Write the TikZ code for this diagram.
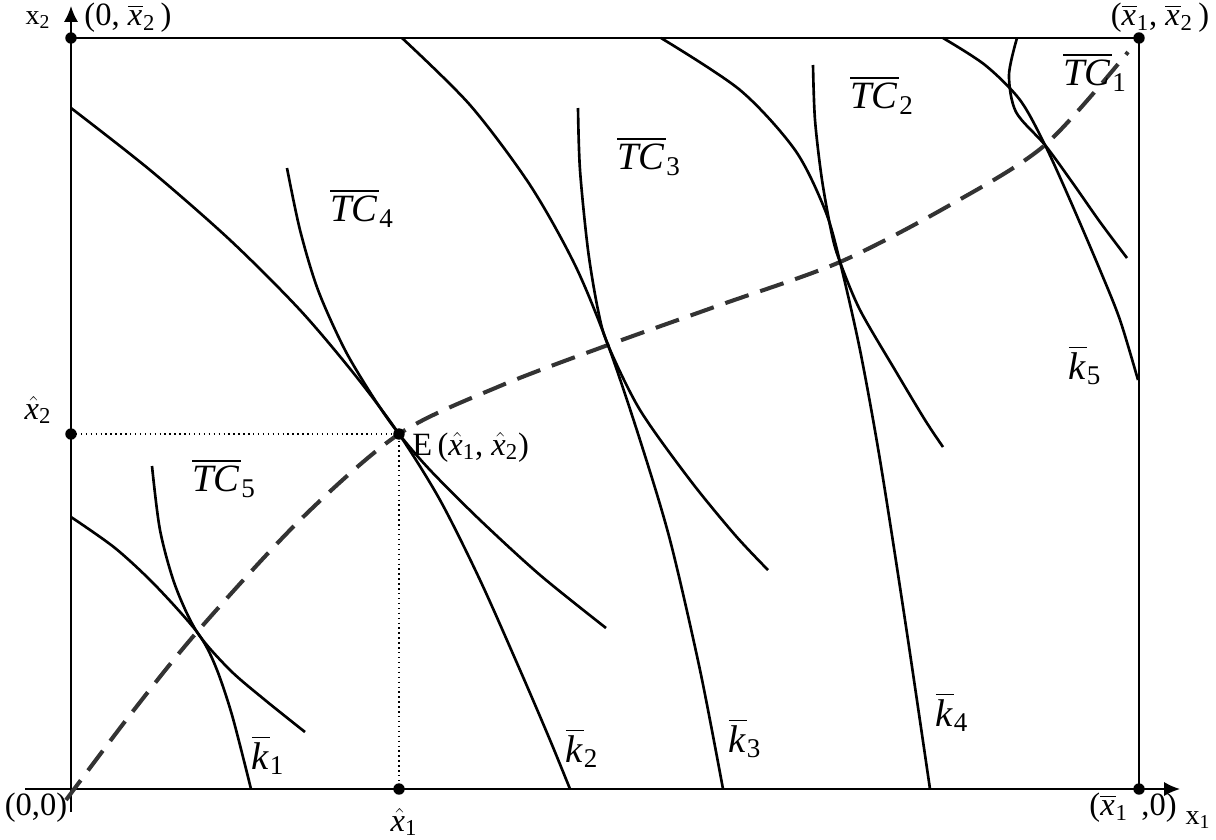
\documentclass[tikz,border=0pt]{standalone}
\usepackage{amsmath}
\usepackage{fontspec}
\setmainfont{Liberation Serif}
\usetikzlibrary{arrows.meta}

\newcommand{\xbar}[1]{\overline{\textit{x}\kern0.5pt}_{\text{#1}}}
\newcommand{\xhat}[1]{\hat{\textit{x}\kern2pt}\kern-2pt_{\text{#1}}}
\newcommand{\kbar}[1]{$\overline{\textit{k}\kern0.5pt}_{\text{#1}}$}
\newcommand{\tcbar}[1]{$\overline{\textit{TC}\kern1pt}_{\text{#1}}$}

\begin{document}
\begin{tikzpicture}[
    x=0.02cm, y=-0.02cm,
    frame/.style={line width=1.1pt, black},
    axis/.style={line width=1.1pt, black, -{Latex[length=9pt, width=8pt]}},
    curve/.style={line width=1.5pt, black},
    expan/.style={line width=2.3pt, black!80, dash pattern=on 14pt off 7pt},
    guide/.style={line width=0.8pt, dotted},
    dot/.style={circle, fill=black, inner sep=0pt, minimum size=6.5pt},
    lbl/.style={font=\fontsize{18.5}{21}\selectfont, inner sep=0pt},
    big/.style={font=\fontsize{22}{25}\selectfont, inner sep=0pt},
    small/.style={font=\fontsize{16}{18}\selectfont, inner sep=0pt}
]
    \useasboundingbox (0,0) rectangle (1216,839);

    % Key points
    \coordinate (O) at (71,789);
    \coordinate (X2) at (71,38);
    \coordinate (X12) at (1139,38);
    \coordinate (X1) at (1139,789);
    \coordinate (H2) at (71,434);
    \coordinate (H1) at (399,789);
    \coordinate (E) at (399,434);
    \coordinate (t1) at (197,632);
    \coordinate (t3) at (608,345);
    \coordinate (t4) at (840,262);
    \coordinate (t5) at (1045,145);
    \coordinate (xs) at (25,789);
    \coordinate (xe) at (1180,789);
    \coordinate (ys) at (71,812);
    \coordinate (ye) at (71,6);

    % Axes and box
    \draw[axis] (xs) -- (xe);
    \draw[axis] (ys) -- (ye);
    \draw[frame] (X2) -- (X12) -- (X1);
    \draw[guide] (H2) -- (E) -- (H1);

    % Expansion path
    \draw[expan] plot[smooth] coordinates {(66,800) (130,715) (t1) (300,520) (E)
        (500,386) (t3) (720,305) (t4) (950,205) (t5) (1128,52)};

    % k curves
    \draw[curve] plot[smooth] coordinates {(71,517) (115,548) (155,585) (t1)
        (215,665) (232,715) (251,789)};
    \draw[curve] plot[smooth] coordinates {(71,108) (150,170) (230,240) (300,310)
        (355,375) (E) (440,500) (480,580) (520,670) (550,740) (570,789)};
    \draw[curve] plot[smooth] coordinates {(402,38) (470,105) (530,185) (575,265)
        (t3) (640,440) (670,540) (700,670) (723,789)};
    \draw[curve] plot[smooth] coordinates {(661,38) (740,90) (795,150) (825,210)
        (t4) (860,350) (880,460) (905,620) (930,789)};
    \draw[curve] plot[smooth] coordinates {(943,38) (985,65) (1020,100) (t5)
        (1070,200) (1100,270) (1120,320) (1138,380)};

    % TC curves
    \draw[curve] plot[smooth] coordinates {(152,466) (160,530) (175,585) (t1)
        (230,670) (265,700) (305,732)};
    \draw[curve] plot[smooth] coordinates {(287,168) (300,230) (318,290) (345,350)
        (375,400) (E) (430,470) (480,520) (540,575) (606,628)};
    \draw[curve] plot[smooth] coordinates {(578,108) (580,170) (588,250) (598,310)
        (t3) (640,410) (690,480) (735,535) (768,570)};
    \draw[curve] plot[smooth] coordinates {(813,65) (815,120) (822,180) (832,235)
        (t4) (860,310) (895,370) (925,420) (943,447)};
    \draw[curve] plot[smooth] coordinates {(1017,38) (1009,75) (1016,112) (t5)
        (1072,182) (1100,222) (1127,258)};

    % Dots
    \node[dot] (dX2) at (X2) {};
    \node[dot] (dX12) at (X12) {};
    \node[dot] (dX1) at (X1) {};
    \node[dot] (dH2) at (H2) {};
    \node[dot] (dH1) at (H1) {};
    \node[dot] (dE) at (E) {};

    % Labels
    \node[small] (lx2) at (38,20) {x$_{\text{2}}$};
    \node[small] (lx1) at (1198,820) {x$_{\text{1}}$};
    \node[lbl] (l02) at (128,18) {(0, $\xbar{2}$\,)};
    \node[lbl] (l12) at (1160,18) {($\xbar{1}$, $\xbar{2}$\,)};
    \node[lbl] (l10) at (1133,808) {($\xbar{1}$\, ,0)};
    \node[lbl] (l00) at (36,808) {(0,0)};
    \node[lbl] (lh2) at (38,410) {$\xhat{2}$};
    \node[lbl] (lh1) at (404,822) {$\xhat{1}$};
    \node[lbl, anchor=west] (lE) at (412,447) {E\,($\xhat{1}$, $\xhat{2}$)};

    \node[big] (tc1) at (1095,72) {\tcbar{1}};
    \node[big] (tc2) at (882,95) {\tcbar{2}};
    \node[big] (tc3) at (649,156) {\tcbar{3}};
    \node[big] (tc4) at (362,208) {\tcbar{4}};
    \node[big] (tc5) at (224,478) {\tcbar{5}};

    \node[big] (k1) at (268,755) {\kbar{1}};
    \node[big] (k2) at (582,748) {\kbar{2}};
    \node[big] (k3) at (745,738) {\kbar{3}};
    \node[big] (k4) at (952,712) {\kbar{4}};
    \node[big] (k5) at (1085,365) {\kbar{5}};
\end{tikzpicture}
\end{document}
